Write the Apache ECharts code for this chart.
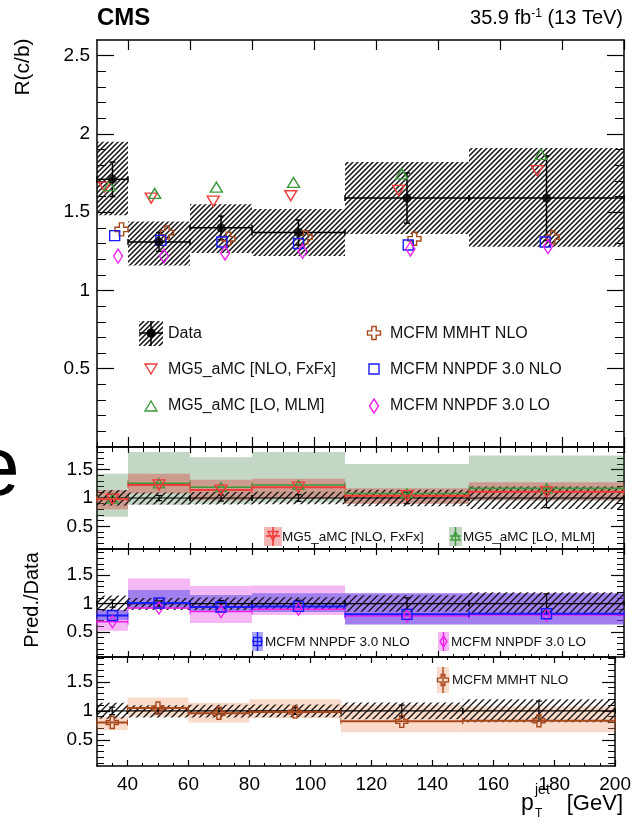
<!DOCTYPE html>
<html>
<head>
<meta charset="utf-8">
<script src="https://cdn.jsdelivr.net/npm/echarts@6/dist/echarts.min.js"></script>
<style>
html, body { margin: 0; padding: 0; background: #fff; }
#chart { width: 634px; height: 824px; }
</style>
</head>
<body>
<div id="chart"></div>
<script>
// pT(jet) bins [GeV]
const binLo = [30, 40, 60, 80, 110, 150];
const binHi = [40, 60, 80, 110, 150, 200];
const binMid = [35, 50, 70, 95, 130, 175];

// measured R(c/b)
const dataR = [1.71, 1.31, 1.40, 1.37, 1.59, 1.59];
const dataStat = [0.11, 0.06, 0.075, 0.08, 0.16, 0.27];
const dataTotLo = [1.48, 1.16, 1.24, 1.22, 1.36, 1.28];
const dataTotHi = [1.95, 1.44, 1.55, 1.52, 1.82, 1.91];

// predictions in the upper panel (value + where the marker sits)
const nloFxFx = [1.66, 1.59, 1.57, 1.605, 1.64, 1.765];
const xNloFxFx = [32.5, 47.5, 67.5, 92.5, 127.3, 172.0];
const loMLM = [1.67, 1.62, 1.66, 1.69, 1.745, 1.87];
const xLoMLM = [34.0, 48.6, 68.5, 93.4, 128.3, 173.2];
const mmhtNLO = [1.39, 1.37, 1.33, 1.34, 1.33, 1.34];
const xMmhtNLO = [37.9, 52.6, 72.4, 97.3, 132.4, 177.0];
const nnpdfNLO = [1.35, 1.32, 1.31, 1.30, 1.29, 1.31];
const xNnpdfNLO = [35.7, 50.6, 70.3, 95.0, 130.4, 174.6];
const nnpdfLO = [1.22, 1.22, 1.24, 1.25, 1.265, 1.28];
const xNnpdfLO = [36.8, 51.6, 71.3, 96.3, 131.1, 175.5];

// Pred./Data panels
const rNloFxFx = [0.98, 1.23, 1.14, 1.19, 1.04, 1.11];
const rNloFxFxLo = [0.80, 1.08, 0.96, 0.99, 0.90, 0.96];
const rNloFxFxHi = [1.14, 1.43, 1.32, 1.34, 1.17, 1.28];
const rLoMLM = [0.99, 1.26, 1.19, 1.23, 1.08, 1.17];
const rLoMLMLo = [0.67, 0.88, 0.90, 0.92, 0.90, 0.95];
const rLoMLMHi = [1.43, 1.81, 1.72, 1.81, 1.60, 1.75];

const rNnpdfNLO = [0.79, 1.01, 0.94, 0.95, 0.81, 0.82];
const rNnpdfNLOLo = [0.71, 0.91, 0.85, 0.85, 0.63, 0.63];
const rNnpdfNLOHi = [0.89, 1.24, 1.15, 1.18, 1.18, 1.18];
const rNnpdfLO = [0.68, 0.92, 0.86, 0.90, 0.78, 0.80];
const rNnpdfLOLo = [0.52, 0.91, 0.66, 0.80, 0.63, 0.63];
const rNnpdfLOHi = [0.89, 1.44, 1.31, 1.32, 1.18, 1.18];

const rMmhtNLO = [0.80, 1.05, 0.96, 0.98, 0.82, 0.83];
const rMmhtNLOLo = [0.67, 0.90, 0.80, 0.88, 0.63, 0.63];
const rMmhtNLOHi = [0.90, 1.23, 1.14, 1.20, 1.10, 1.08];

// tick labels
const xTicks = [40, 60, 80, 100, 120, 140, 160, 180, 200];
const mainYTicks = [0.5, 1, 1.5, 2, 2.5];
const ratioYTicks = [0.5, 1, 1.5];

const FONT = '"Liberation Sans", Arial, Helvetica, sans-serif';
const RED = '#f23a3a', GREEN = '#3c9a3c', BROWN = '#a8471c', BLUE = '#1a1aff', MAGENTA = '#f020f0';
const CROSS = 'path://M-1,-3H1V-1H3V1H1V3H-1V1H-3V-1H-1Z';

function steps(a, b, s) {
  const out = [];
  for (let v = a; v <= b + 1e-9; v += s) out.push(Math.round(v * 100) / 100);
  return out;
}

// diagonal hatch "////"
function hatch(step, lw) {
  const c = document.createElement('canvas');
  c.width = step; c.height = step;
  const ctx = c.getContext('2d');
  ctx.strokeStyle = '#111';
  ctx.lineWidth = lw;
  ctx.beginPath();
  ctx.moveTo(-1, step + 1); ctx.lineTo(step + 1, -1);
  ctx.moveTo(-2, 2); ctx.lineTo(2, -2);
  ctx.moveTo(step - 2, step + 2); ctx.lineTo(step + 2, step - 2);
  ctx.stroke();
  return { image: c, repeat: 'repeat' };
}
const hatchMain = hatch(5, 1.5);
const hatchRatio = hatch(7, 1.3);

const grids = [
  { left: 97, top: 40, width: 527, height: 407 },
  { left: 97, top: 447, width: 527, height: 102 },
  { left: 97, top: 549, width: 527, height: 108 },
  { left: 97, top: 657, width: 527, height: 109 }
];
const yRange = [[0, 2.6], [0.1, 1.9], [0.06, 1.96], [0.05, 1.93]];

const xAxes = [], yAxes = [];
grids.forEach(function (gr, g) {
  const main = g === 0;
  ['bottom', 'top'].forEach(function (pos) {
    xAxes.push({
      type: 'value', gridIndex: g, position: pos, min: 30, max: 200,
      axisLine: { show: true, onZero: false, lineStyle: { color: '#000', width: 1.5 } },
      axisTick: { show: true, inside: true, length: main ? 10 : 6, customValues: xTicks, lineStyle: { color: '#000', width: 1.2 } },
      axisLabel: { show: g === 3 && pos === 'bottom', customValues: xTicks, color: '#000', fontSize: 19, fontFamily: FONT, margin: 9 },
      splitLine: { show: false }
    });
    xAxes.push({
      type: 'value', gridIndex: g, position: pos, min: 30, max: 200,
      axisLine: { show: false },
      axisTick: { show: true, inside: true, length: main ? 5 : 3, customValues: steps(30, 200, 5), lineStyle: { color: '#000', width: 1 } },
      axisLabel: { show: false },
      splitLine: { show: false }
    });
  });
  const yr = yRange[g];
  const minors = (main ? steps(0.1, 2.5, 0.1) : steps(0.1, 1.9, 0.1)).filter(function (v) { return v > yr[0] && v < yr[1]; });
  ['left', 'right'].forEach(function (pos) {
    yAxes.push({
      type: 'value', gridIndex: g, position: pos, min: yr[0], max: yr[1],
      axisLine: { show: true, onZero: false, lineStyle: { color: '#000', width: 1.5 } },
      axisTick: { show: true, inside: true, length: main ? 17 : 13, customValues: main ? mainYTicks : ratioYTicks, lineStyle: { color: '#000', width: 1.2 } },
      axisLabel: { show: pos === 'left', customValues: main ? mainYTicks : ratioYTicks, color: '#000', fontSize: 19, fontFamily: FONT, margin: main ? 7 : 4 },
      splitLine: { show: false }
    });
    yAxes.push({
      type: 'value', gridIndex: g, position: pos, min: yr[0], max: yr[1],
      axisLine: { show: false },
      axisTick: { show: true, inside: true, length: main ? 9 : 7, customValues: minors, lineStyle: { color: '#000', width: 1 } },
      axisLabel: { show: false },
      splitLine: { show: false }
    });
  });
});

function ln(x1, y1, x2, y2, color, w) {
  return { type: 'line', shape: { x1: x1, y1: y1, x2: x2, y2: y2 }, style: { stroke: color, lineWidth: w } };
}

// rectangles [lo, hi, ylo, yhi]
function band(g, ylo, yhi, fill, z) {
  return {
    type: 'custom', xAxisIndex: 4 * g, yAxisIndex: 4 * g, z: z, silent: true,
    data: binLo.map(function (v, i) { return [binLo[i], binHi[i], ylo[i], yhi[i]]; }),
    renderItem: function (params, api) {
      const a = api.coord([api.value(0), api.value(3)]);
      const b = api.coord([api.value(1), api.value(2)]);
      return { type: 'rect', shape: { x: a[0], y: a[1], width: b[0] - a[0], height: b[1] - a[1] }, style: { fill: fill } };
    }
  };
}

// data points with bin-wide horizontal bars and stat vertical bars
function errBars(g, y, stat, w, z) {
  return {
    type: 'custom', xAxisIndex: 4 * g, yAxisIndex: 4 * g, z: z, silent: true,
    data: binMid.map(function (v, i) { return [binMid[i], y[i], binLo[i], binHi[i], stat[i]]; }),
    renderItem: function (params, api) {
      const x = api.value(0), v = api.value(1), s = api.value(4);
      const l = api.coord([api.value(2), v]), r = api.coord([api.value(3), v]);
      const t = api.coord([x, v + s]), b = api.coord([x, v - s]);
      const c = 3;
      return { type: 'group', children: [
        ln(l[0], l[1], r[0], r[1], '#000', w),
        ln(t[0], t[1], b[0], b[1], '#000', w),
        ln(l[0], l[1] - c, l[0], l[1] + c, '#000', w),
        ln(r[0], r[1] - c, r[0], r[1] + c, '#000', w),
        ln(t[0] - c, t[1], t[0] + c, t[1], '#000', w),
        ln(b[0] - c, b[1], b[0] + c, b[1], '#000', w)
      ] };
    }
  };
}

// prediction as horizontal line across each bin
function stepLine(g, y, color, w, z) {
  return {
    type: 'custom', xAxisIndex: 4 * g, yAxisIndex: 4 * g, z: z, silent: true,
    data: binLo.map(function (v, i) { return [binLo[i], binHi[i], y[i]]; }),
    renderItem: function (params, api) {
      const a = api.coord([api.value(0), api.value(2)]);
      const b = api.coord([api.value(1), api.value(2)]);
      return { type: 'group', children: [
        ln(a[0], a[1], b[0], b[1], color, w),
        ln(a[0], a[1] - 3, a[0], a[1] + 3, color, 1),
        ln(b[0], b[1] - 3, b[0], b[1] + 3, color, 1)
      ] };
    }
  };
}

function markers(g, xs, ys, symbol, size, color, rotate, z) {
  return {
    type: 'scatter', xAxisIndex: 4 * g, yAxisIndex: 4 * g, z: z, silent: true,
    data: xs.map(function (x, i) { return [x, ys[i]]; }),
    symbol: symbol, symbolSize: size, symbolRotate: rotate || 0,
    itemStyle: { color: 'rgba(255,255,255,0)', borderColor: color, borderWidth: 1.4, opacity: 1 }
  };
}

const relLo = dataTotLo.map(function (v, i) { return v / dataR[i]; });
const relHi = dataTotHi.map(function (v, i) { return v / dataR[i]; });
const relStat = dataStat.map(function (v, i) { return v / dataR[i]; });
const ones = dataR.map(function () { return 1; });

const series = [
  // upper panel
  band(0, dataTotLo, dataTotHi, hatchMain, 2),
  errBars(0, dataR, dataStat, 1.5, 4),
  { type: 'scatter', xAxisIndex: 0, yAxisIndex: 0, z: 6, silent: true,
    data: binMid.map(function (x, i) { return [x, dataR[i]]; }),
    symbol: 'circle', symbolSize: 9, itemStyle: { color: '#000' } },
  markers(0, xNloFxFx, nloFxFx, 'triangle', [12, 10], RED, 180, 5),
  markers(0, xLoMLM, loMLM, 'triangle', [12, 10], GREEN, 0, 5),
  markers(0, xMmhtNLO, mmhtNLO, CROSS, 13, BROWN, 0, 5),
  markers(0, xNnpdfNLO, nnpdfNLO, 'rect', 10, BLUE, 0, 5),
  markers(0, xNnpdfLO, nnpdfLO, 'diamond', [9, 14], MAGENTA, 0, 5),

  // MG5_aMC ratios
  band(1, rLoMLMLo, rLoMLMHi, 'rgba(60,120,60,0.3)', 1),
  band(1, rNloFxFxLo, rNloFxFxHi, 'rgba(220,50,50,0.35)', 1),
  band(1, relLo, relHi, hatchRatio, 2),
  errBars(1, ones, relStat, 1.2, 3),
  stepLine(1, rLoMLM, GREEN, 1.6, 4),
  stepLine(1, rNloFxFx, RED, 2, 4),
  markers(1, binMid, rLoMLM, 'triangle', [11, 9], GREEN, 0, 5),
  markers(1, binMid, rNloFxFx, 'triangle', [12, 10], RED, 180, 5),

  // MCFM NNPDF ratios
  band(2, rNnpdfLOLo, rNnpdfLOHi, 'rgba(230,100,230,0.45)', 1),
  band(2, rNnpdfNLOLo, rNnpdfNLOHi, 'rgba(40,40,230,0.4)', 1),
  band(2, relLo, relHi, hatchRatio, 2),
  errBars(2, ones, relStat, 1.2, 3),
  stepLine(2, rNnpdfLO, MAGENTA, 1.5, 4),
  stepLine(2, rNnpdfNLO, BLUE, 2, 4),
  markers(2, binMid, rNnpdfLO, 'diamond', [8, 12], MAGENTA, 0, 5),
  markers(2, binMid, rNnpdfNLO, 'rect', 10, BLUE, 0, 5),

  // MCFM MMHT ratio
  band(3, rMmhtNLOLo, rMmhtNLOHi, 'rgba(240,150,100,0.35)', 1),
  band(3, relLo, relHi, hatchRatio, 2),
  errBars(3, ones, relStat, 1.2, 3),
  stepLine(3, rMmhtNLO, BROWN, 2, 4),
  markers(3, binMid, rMmhtNLO, CROSS, 12, BROWN, 0, 5)
];

// ---- legend keys and text (graphic) ----
function txt(x, y, s, size, extra) {
  const st = { text: s, fontSize: size, fontFamily: FONT, fill: '#111', align: 'left', textAlign: 'left', verticalAlign: 'middle', textVerticalAlign: 'middle' };
  return Object.assign({ type: 'text', x: x, y: y, z: 100, style: Object.assign(st, extra || {}) });
}
function poly(points, color, fill) {
  return { type: 'polygon', z: 100, shape: { points: points }, style: { fill: fill || 'none', stroke: color, lineWidth: 1.4 } };
}
function triUp(cx, cy, w, h, c) { return poly([[cx, cy - h / 2], [cx + w / 2, cy + h / 2], [cx - w / 2, cy + h / 2]], c); }
function triDown(cx, cy, w, h, c) { return poly([[cx, cy + h / 2], [cx + w / 2, cy - h / 2], [cx - w / 2, cy - h / 2]], c); }
function diamond(cx, cy, w, h, c) { return poly([[cx, cy - h / 2], [cx + w / 2, cy], [cx, cy + h / 2], [cx - w / 2, cy]], c); }
function square(cx, cy, s, c) { return poly([[cx - s / 2, cy - s / 2], [cx + s / 2, cy - s / 2], [cx + s / 2, cy + s / 2], [cx - s / 2, cy + s / 2]], c); }
function cross(cx, cy, s, c) {
  const a = s / 6, L = s / 2;
  return poly([[cx - a, cy - L], [cx + a, cy - L], [cx + a, cy - a], [cx + L, cy - a], [cx + L, cy + a], [cx + a, cy + a],
    [cx + a, cy + L], [cx - a, cy + L], [cx - a, cy + a], [cx - L, cy + a], [cx - L, cy - a], [cx - a, cy - a]], c);
}
function gl(x1, y1, x2, y2, c, w) { const o = ln(x1, y1, x2, y2, c, w); o.z = 100; return o; }
function swatch(x, y, w, h, fill) { return { type: 'rect', z: 99, shape: { x: x, y: y, width: w, height: h }, style: { fill: fill } }; }

const graphics = [
  txt(97, 18, 'CMS', 24, { fontWeight: 'bold', fill: '#000' }),
  txt(623, 18, '35.9 fb{s|-1} (13 TeV)', 20, { align: 'right', textAlign: 'right', fill: '#000',
    rich: { s: { fontSize: 12, fontFamily: FONT, verticalAlign: 'top', fill: '#000' } } }),
  txt(23, 67, 'R(c/b)', 21, { align: 'center', textAlign: 'center', fill: '#000' }),
  txt(32, 600, 'Pred./Data', 20, { align: 'center', textAlign: 'center', fill: '#000' }),
  txt(521, 804, 'p', 23, { fill: '#000' }),
  txt(535, 790, 'jet', 14, { fill: '#000' }),
  txt(535, 814, 'T', 12, { fill: '#000' }),
  txt(623, 804, '[GeV]', 22, { align: 'right', textAlign: 'right', fill: '#000' }),
  txt(-27, 472, 'e', 84, { fill: '#000' }),

  // upper legend
  swatch(139, 321, 24, 25, hatchMain),
  gl(139, 333, 163, 333, '#000', 1.5), gl(151, 321, 151, 346, '#000', 1.5),
  { type: 'circle', z: 101, shape: { cx: 151, cy: 333, r: 4.5 }, style: { fill: '#000' } },
  txt(168, 334, 'Data', 16),
  triDown(151, 369, 12, 10, RED), txt(168, 370, 'MG5_aMC [NLO, FxFx]', 16),
  triUp(151, 406, 12, 10, GREEN), txt(168, 406, 'MG5_aMC [LO, MLM]', 16),
  cross(374, 333, 13, BROWN), txt(390, 334, 'MCFM MMHT NLO', 16),
  square(374, 369, 10, BLUE), txt(390, 370, 'MCFM NNPDF 3.0 NLO', 16),
  diamond(374, 406, 9, 14, MAGENTA), txt(390, 406, 'MCFM NNPDF 3.0 LO', 16),

  // ratio legends
  swatch(264, 527, 18, 19, 'rgba(220,50,50,0.35)'),
  gl(273, 527, 273, 546, RED, 1.6), gl(266, 536, 280, 536, RED, 1.6), triDown(273, 536, 10, 9, RED),
  txt(282, 537, 'MG5_aMC [NLO, FxFx]', 13.5),
  swatch(449, 527, 13, 19, 'rgba(60,120,60,0.3)'),
  gl(455.5, 527, 455.5, 546, GREEN, 1.4), gl(450, 536, 461, 536, GREEN, 1.4), triUp(455.5, 536, 9, 8, GREEN),
  txt(463, 537, 'MG5_aMC [LO, MLM]', 13.5),

  swatch(252, 632, 11, 19, 'rgba(40,40,230,0.4)'),
  gl(257.5, 632, 257.5, 651, BLUE, 1.4), gl(252, 641.5, 263, 641.5, BLUE, 1.4), square(257.5, 641.5, 8, BLUE),
  txt(265, 642, 'MCFM NNPDF 3.0 NLO', 13.5),
  swatch(438, 632, 11, 19, 'rgba(230,100,230,0.45)'),
  gl(443.5, 632, 443.5, 651, MAGENTA, 1.4), diamond(443.5, 641.5, 7, 11, MAGENTA),
  txt(451, 642, 'MCFM NNPDF 3.0 LO', 13.5),

  swatch(437, 667, 12, 26, 'rgba(240,150,100,0.35)'),
  gl(443, 667, 443, 693, BROWN, 1.4), cross(443, 680, 11, BROWN),
  txt(452, 680, 'MCFM MMHT NLO', 13.5)
];
graphics[2].rotation = Math.PI / 2;
graphics[3].rotation = Math.PI / 2;

const chart = echarts.init(document.getElementById('chart'));
chart.setOption({
  animation: false,
  backgroundColor: '#fff',
  grid: grids,
  xAxis: xAxes,
  yAxis: yAxes,
  series: series,
  graphic: { elements: graphics }
});
</script>
</body>
</html>
